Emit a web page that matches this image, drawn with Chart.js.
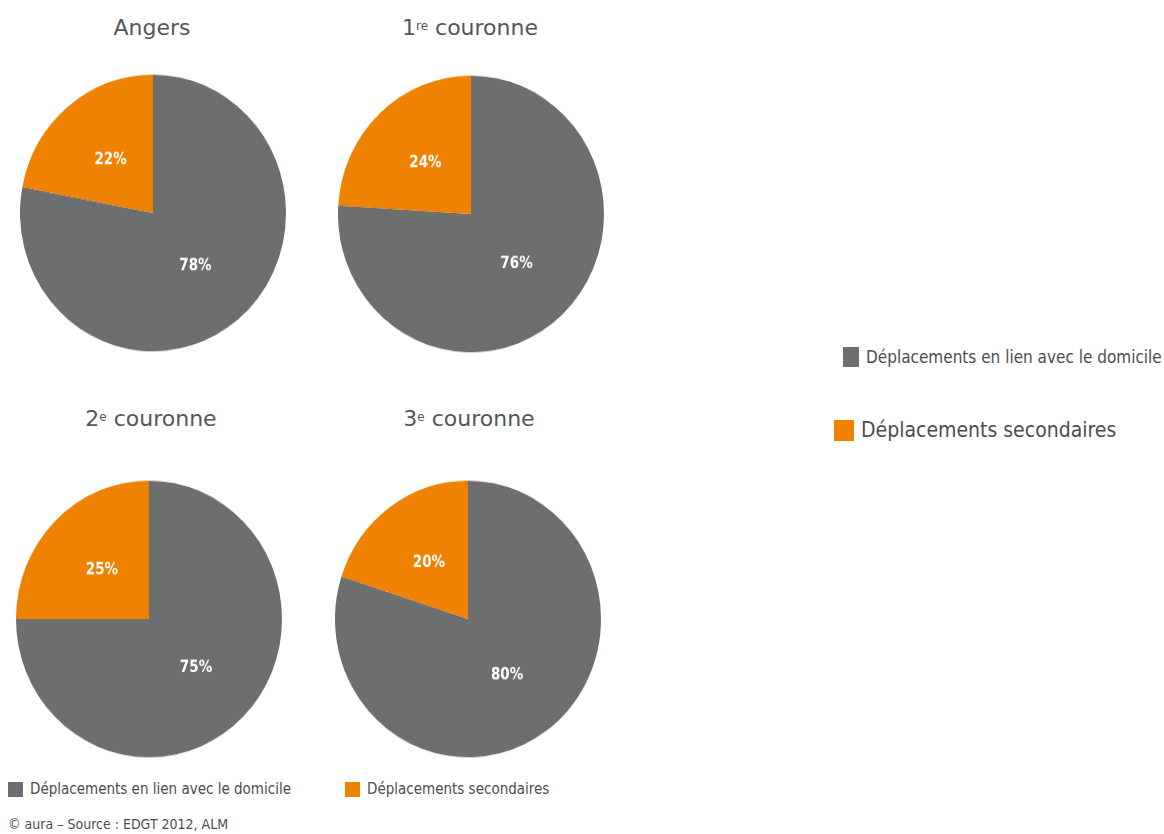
<!DOCTYPE html>
<html><head><meta charset="utf-8">
<script src="https://cdn.jsdelivr.net/npm/chart.js@4"></script>
<style>
body{margin:0;background:#fff;width:1164px;height:834px;position:relative;overflow:hidden;font-family:"DejaVu Sans Condensed","Liberation Sans Narrow",sans-serif;color:#4d4d4f}
.pie{position:absolute;width:266px;height:266px;transform:scaleY(1.04);transform-origin:50% 50%}
.ttl{position:absolute;width:300px;text-align:center;font-family:"DejaVu Sans",sans-serif;font-size:22px;color:#555659;line-height:24px}
.ttl sup{font-size:12px;vertical-align:top;position:relative;top:-2px}
.lg{position:absolute;display:flex;align-items:center;white-space:nowrap}
.sw{display:inline-block;margin-right:7px}
</style></head>
<body>
<div class="ttl" style="left:2px;top:16px">Angers</div>
<div class="ttl" style="left:320px;top:16px">1<sup>re</sup> couronne</div>
<div class="ttl" style="left:1px;top:407px">2<sup>e</sup> couronne</div>
<div class="ttl" style="left:319px;top:407px">3<sup>e</sup> couronne</div>
<div class="pie" style="left:20px;top:80px"><canvas id="c0"></canvas></div>
<div class="pie" style="left:338px;top:81px"><canvas id="c1"></canvas></div>
<div class="pie" style="left:16px;top:486px"><canvas id="c2"></canvas></div>
<div class="pie" style="left:335px;top:486px"><canvas id="c3"></canvas></div>

<div class="lg" style="left:843px;top:347px;font-size:17px"><span class="sw" style="width:16px;height:20px;background:#6d6e70"></span><span id="lgA"></span></div>
<div class="lg" style="left:834px;top:418px;font-size:21px"><span class="sw" style="width:20px;height:21px;background:#ef8200"></span><span id="lgB"></span></div>

<div class="lg" style="left:8px;top:780px;font-size:15px"><span class="sw" style="width:15px;height:15px;background:#6d6e70"></span><span id="lgC"></span></div>
<div class="lg" style="left:345px;top:780px;font-size:15px"><span class="sw" style="width:15px;height:15px;background:#ef8200"></span><span id="lgD"></span></div>
<div class="lg" style="left:8px;top:816px;font-size:14px">© aura – Source : EDGT 2012, ALM</div>

<script>
const categories = ["Déplacements en lien avec le domicile", "Déplacements secondaires"];
const zones = ["Angers", "1re couronne", "2e couronne", "3e couronne"];
const domicile = [78, 76, 75, 80];
const secondaires = [22, 24, 25, 20];
const colors = ["#6d6e70", "#ef8200"];

document.getElementById('lgA').textContent = categories[0];
document.getElementById('lgB').textContent = categories[1];
document.getElementById('lgC').textContent = categories[0];
document.getElementById('lgD').textContent = categories[1];

const labelPlugin = {
  id: 'sliceLabels',
  afterDatasetsDraw(chart) {
    const ctx = chart.ctx;
    const meta = chart.getDatasetMeta(0);
    ctx.save();
    ctx.fillStyle = '#ffffff';
    ctx.font = 'bold 15px "DejaVu Sans Condensed", "DejaVu Sans", sans-serif';
    ctx.textAlign = 'center';
    ctx.textBaseline = 'middle';
    meta.data.forEach((arc, i) => {
      const p = arc.tooltipPosition();
      ctx.fillText(chart.data.datasets[0].data[i] + '%', p.x, p.y);
    });
    ctx.restore();
  }
};

zones.forEach((z, k) => {
  new Chart(document.getElementById('c' + k), {
    type: 'pie',
    data: {
      labels: categories,
      datasets: [{ label: z, data: [domicile[k], secondaires[k]], backgroundColor: colors, borderWidth: 0 }]
    },
    options: {
      responsive: true,
      maintainAspectRatio: false,
      animation: false,
      layout: { padding: 0 },
      plugins: { legend: { display: false }, tooltip: { enabled: false }, title: { display: false } }
    },
    plugins: [labelPlugin]
  });
});
</script>
</body></html>
